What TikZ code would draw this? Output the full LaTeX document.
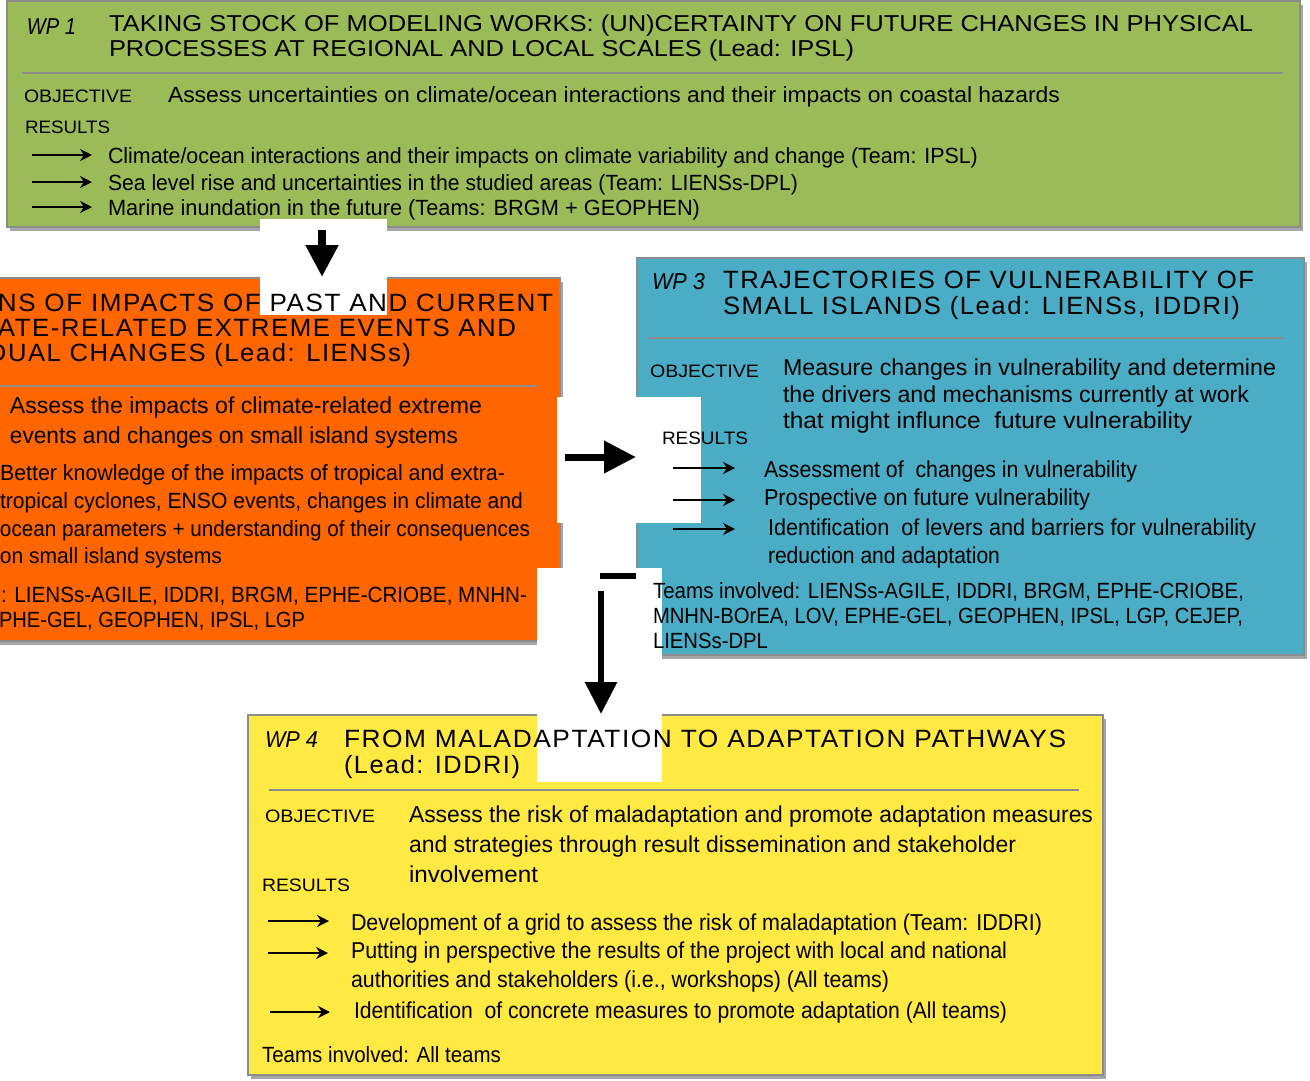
\documentclass[tikz,border=0pt]{standalone}
\usepackage{fontspec}
\usepackage{graphicx}
\setmainfont{Liberation Sans}
\newfontfamily\ttlfont[LetterSpace=6]{Liberation Sans}
\usetikzlibrary{arrows.meta,shadows}
\definecolor{wpgreen}{HTML}{9BBB59}
\definecolor{wporange}{HTML}{FF6600}
\definecolor{wpblue}{HTML}{4BACC6}
\definecolor{wpyellow}{HTML}{FFE942}
\definecolor{wpgray}{HTML}{8C8C8C}
\newcommand\fw[2]{\resizebox{#1pt}{\height}{#2}}
\tikzset{
  box/.style={draw=wpgray, line width=2pt,
    drop shadow={shadow xshift=3pt, shadow yshift=-4pt, fill=black, opacity=0.35}},
  sep/.style={draw=wpgray, line width=2pt},
  patch/.style={fill=white, draw=none},
  txt/.style={anchor=base west, inner sep=0pt, outer sep=0pt},
  txte/.style={anchor=base east, inner sep=0pt, outer sep=0pt},
  bodyA/.style={txt, font=\fontsize{22}{26}\selectfont},
  bodyB/.style={txt, font=\fontsize{23}{27}\selectfont},
  lab/.style={txt, font=\fontsize{18}{22}\selectfont},
  wpn/.style={txt, font=\itshape\fontsize{23}{27}\selectfont},
  ttlA/.style={txt, font=\fontsize{23}{27}\selectfont},
  ttlB/.style={txt, font=\ttlfont\fontsize{25}{29}\selectfont},
  res/.style={line width=1.8pt, -{Stealth[length=12pt,width=12pt,inset=4pt]}},
  big/.style={line width=#1, -{Triangle[length=32pt,width=31pt]}},
}
\begin{document}
\begin{tikzpicture}[x=1pt,y=-1pt]
\useasboundingbox (0,0) rectangle (1310,1080);
\clip (0,0) rectangle (1310,1080);
\fill[white] (0,0) rectangle (1310,1080);

% boxes
\node[box, fill=wpgreen, minimum width=1293pt, minimum height=226pt] (wp1) at (653.5,114) {};
\node[box, fill=wporange, minimum width=580pt, minimum height=363pt] (wp2) at (270,459.5) {};
\node[box, fill=wpblue, minimum width=667pt, minimum height=397pt] (wp3) at (970.5,456.5) {};
\node[box, fill=wpyellow, minimum width=855pt, minimum height=360pt] (wp4) at (675.5,895) {};

% separators
\draw[sep] (22,73) -- (1283,73);
\draw[sep] (-5,386) -- (538,386);
\draw[sep] (648,338) -- (1284,338);
\draw[sep] (269,790) -- (1079,790);

% white patches
\fill[patch] (260,219) rectangle (387,315);
\fill[patch] (557,397) rectangle (701,523);
\fill[patch] (537,568) rectangle (662,782);

% WP1
\node[wpn] (wp1n) at (27,34) {\fw{49}{WP 1}};
\node[ttlA] (wp1t1) at (109,31) {\fw{1144}{TAKING STOCK OF MODELING WORKS: (UN)CERTAINTY ON FUTURE CHANGES IN PHYSICAL}};
\node[ttlA] (wp1t2) at (109,56) {\fw{745}{PROCESSES AT REGIONAL AND LOCAL SCALES (Lead: IPSL)}};
\node[lab] (wp1o) at (24,102) {\fw{108}{OBJECTIVE}};
\node[bodyA] (wp1ot) at (168,102) {\fw{892}{Assess uncertainties on climate/ocean interactions and their impacts on coastal hazards}};
\node[lab] (wp1r) at (25,133) {\fw{85}{RESULTS}};
\draw[res] (32,155) -- (92,155);
\draw[res] (32,182) -- (92,182);
\draw[res] (32,207) -- (92,207);
\node[bodyA] (wp1r1) at (108,163) {\fw{870}{Climate/ocean interactions and their impacts on climate variability and change (Team: IPSL)}};
\node[bodyA] (wp1r2) at (108,190) {\fw{690}{Sea level rise and uncertainties in the studied areas (Team: LIENSs-DPL)}};
\node[bodyA] (wp1r3) at (108,215) {\fw{592}{Marine inundation in the future (Teams: BRGM + GEOPHEN)}};

% WP2
\node[ttlB, txte] (wp2t1) at (553,311) {\fw{555}{NS OF IMPACTS OF PAST AND CURRENT}};
\node[ttlB, txte] (wp2t2) at (516,336) {\fw{518}{ATE-RELATED EXTREME EVENTS AND}};
\node[ttlB, txte] (wp2t3) at (411,361) {\fw{423}{DUAL CHANGES (Lead: LIENSs)}};
\node[bodyB] (wp2o1) at (10,413) {\fw{472}{Assess the impacts of climate-related extreme}};
\node[bodyB] (wp2o2) at (10,443) {\fw{448}{events and changes on small island systems}};
\node[bodyA] (wp2r1) at (0,480) {\fw{505}{Better knowledge of the impacts of tropical and extra-}};
\node[bodyA] (wp2r2) at (0,508) {\fw{523}{tropical cyclones, ENSO events, changes in climate and}};
\node[bodyA] (wp2r3) at (0,536) {\fw{530}{ocean parameters + understanding of their consequences}};
\node[bodyA] (wp2r4) at (0,563) {\fw{222}{on small island systems}};
\node[bodyA] (wp2m1) at (1,602) {\fw{526}{: LIENSs-AGILE, IDDRI, BRGM, EPHE-CRIOBE, MNHN-}};
\node[bodyA] (wp2m2) at (-1,627) {\fw{306}{PHE-GEL, GEOPHEN, IPSL, LGP}};

% WP3
\node[wpn] (wp3n) at (652,289) {\fw{53}{WP 3}};
\node[ttlB] (wp3t1) at (723,288) {\fw{531}{TRAJECTORIES OF VULNERABILITY OF}};
\node[ttlB] (wp3t2) at (723,314) {\fw{517}{SMALL ISLANDS (Lead: LIENSs, IDDRI)}};
\node[lab] (wp3o) at (650,377) {\fw{109}{OBJECTIVE}};
\node[bodyB] (wp3o1) at (783,375) {\fw{493}{Measure changes in vulnerability and determine}};
\node[bodyB] (wp3o2) at (783,402) {\fw{466}{the drivers and mechanisms currently at work}};
\node[bodyB] (wp3o3) at (783,428) {\fw{409}{that might influnce \ future vulnerability}};
\node[lab] (wp3r) at (662,444) {\fw{86}{RESULTS}};
\draw[res] (673,468) -- (735,468);
\draw[res] (673,500) -- (735,500);
\draw[res] (673,529) -- (735,529);
\node[bodyB] (wp3r1) at (764,477) {\fw{373}{Assessment of \ changes in vulnerability}};
\node[bodyB] (wp3r2) at (764,505) {\fw{326}{Prospective on future vulnerability}};
\node[bodyB] (wp3r3) at (768,535) {\fw{488}{Identification \ of levers and barriers for vulnerability}};
\node[bodyB] (wp3r4) at (768,563) {\fw{232}{reduction and adaptation}};
\node[bodyA] (wp3m1) at (653,598) {\fw{591}{Teams involved: LIENSs-AGILE, IDDRI, BRGM, EPHE-CRIOBE,}};
\node[bodyA] (wp3m2) at (653,623) {\fw{590}{MNHN-BOrEA, LOV, EPHE-GEL, GEOPHEN, IPSL, LGP, CEJEP,}};
\node[bodyA] (wp3m3) at (653,648) {\fw{115}{LIENSs-DPL}};

% WP4
\node[wpn] (wp4n) at (265,747) {\fw{53}{WP 4}};
\node[ttlB] (wp4t1) at (344,747) {\fw{722}{FROM MALADAPTATION TO ADAPTATION PATHWAYS}};
\node[ttlB] (wp4t2) at (344,773) {\fw{176}{(Lead: IDDRI)}};
\node[lab] (wp4o) at (265,822) {\fw{110}{OBJECTIVE}};
\node[bodyB] (wp4o1) at (409,822) {\fw{684}{Assess the risk of maladaptation and promote adaptation measures}};
\node[bodyB] (wp4o2) at (409,852) {\fw{607}{and strategies through result dissemination and stakeholder}};
\node[bodyB] (wp4o3) at (409,882) {\fw{129}{involvement}};
\node[lab] (wp4r) at (262,891) {\fw{88}{RESULTS}};
\draw[res] (268,921) -- (329,921);
\draw[res] (268,953) -- (328,953);
\draw[res] (270,1012) -- (330,1012);
\node[bodyB] (wp4r1) at (351,930) {\fw{691}{Development of a grid to assess the risk of maladaptation (Team: IDDRI)}};
\node[bodyB] (wp4r2) at (351,958) {\fw{656}{Putting in perspective the results of the project with local and national}};
\node[bodyB] (wp4r3) at (351,987) {\fw{538}{authorities and stakeholders (i.e., workshops) (All teams)}};
\node[bodyB] (wp4r4) at (354,1018) {\fw{653}{Identification \ of concrete measures to promote adaptation (All teams)}};
\node[bodyA] (wp4m) at (262,1062) {\fw{239}{Teams involved: All teams}};

% connectors
\coordinate (a1s) at (322,230);
\draw[big=8pt] (a1s) -- (a1s |- wp2.north);
\coordinate (a2s) at (565,457);
\draw[big=7pt] (a2s) -- (a2s -| wp3.west);
\coordinate (a3b) at (600,576);
\draw[line width=6pt] (a3b) -- (a3b -| wp3.west);
\coordinate (a3s) at (601,591);
\draw[big=6pt] (a3s) -- (a3s |- wp4.north);
\end{tikzpicture}
\end{document}
